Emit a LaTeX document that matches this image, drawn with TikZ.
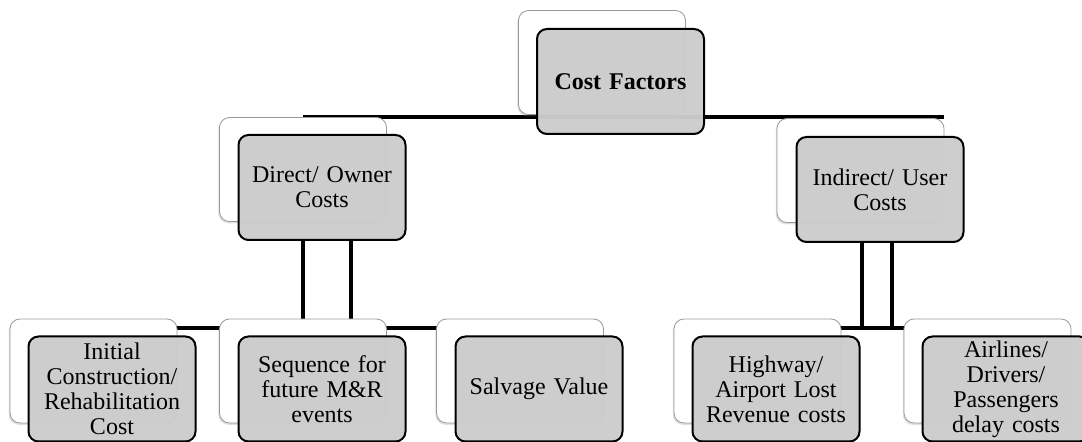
\documentclass[tikz,border=0pt]{standalone}
\usepackage{fontspec}
\setmainfont{Liberation Serif}
\usetikzlibrary{backgrounds,shadows}

\tikzset{
  backbox/.style={draw=gray!80, fill=white, line width=0.4pt, rounded corners=5pt,
    minimum width=83.5pt, minimum height=52pt,
    drop shadow={shadow xshift=-0.6pt, shadow yshift=-0.9pt, opacity=0.25}},
  costbox/.style={draw=black, line width=1pt, fill=gray!40, fill opacity=0.97, text opacity=1,
    rounded corners=5pt, minimum width=83.5pt, minimum height=52.5pt, text width=76pt,
    inner xsep=3.75pt, inner ysep=1pt, align=center, font=\fontsize{12}{12.5}\selectfont},
  link/.style={line width=2pt}
}

\begin{document}
\begin{tikzpicture}[x=0.5pt, y=-0.5pt]
  \clip (0,0) rectangle (1082,442);

  % top level
  \node[backbox] (cost-b) at (602,62.5) {};
  \node[costbox, font=\fontsize{12}{12.5}\selectfont\bfseries] (cost) at (620.5,81.5) {Cost Factors};

  % second level
  \node[backbox] (direct-b) at (303,169.5) {};
  \node[costbox] (direct) at (322,187.5) {Direct/ Owner\\Costs};
  \node[backbox] (indirect-b) at (860.5,170.5) {};
  \node[costbox] (indirect) at (880,189.5) {Indirect/ User\\Costs};

  % third level
  \node[backbox] (initial-b) at (93.5,371) {};
  \node[costbox] (initial) at (112,389) {Initial\\Construction/\\Rehabilitation\\Cost};
  \node[backbox] (sequence-b) at (303,371) {};
  \node[costbox] (sequence) at (322,389) {Sequence for\\future M\&R\\events};
  \node[backbox] (salvage-b) at (520,371) {};
  \node[costbox] (salvage) at (539,389) {Salvage Value};
  \node[backbox] (highway-b) at (757.5,371) {};
  \node[costbox] (highway) at (776,389) {Highway/\\Airport Lost\\Revenue costs};
  \node[backbox] (airlines-b) at (987.5,371) {};
  \node[costbox] (airlines) at (1006,389) {Airlines/\\Drivers/\\Passengers\\delay costs};

  % connectors
  \coordinate (dl) at (303,328);
  \coordinate (dr) at (351,328);
  \coordinate (il) at (862,328);
  \coordinate (ir) at (892,328);
  \begin{pgfonlayer}{background}
    \draw[link] ([yshift=-1pt]dl |- cost-b.south) -- ([yshift=-1pt]indirect-b.east |- cost-b.south);
    \draw[link] (dl |- direct.south) -- (dl);
    \draw[link] (dr |- direct.south) -- (dr);
    \draw[link] (il |- indirect.south) -- (il);
    \draw[link] (ir |- indirect.south) -- (ir);
    \draw[link] (initial-b.north |- dl) -- (salvage-b.north |- dl);
    \draw[link] (highway-b.north |- il) -- (airlines-b.north |- il);
  \end{pgfonlayer}
\end{tikzpicture}
\end{document}
